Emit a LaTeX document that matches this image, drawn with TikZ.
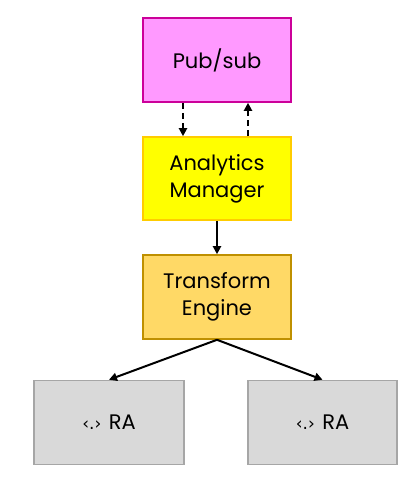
\documentclass[tikz,border=0pt]{standalone}
\usepackage{fontspec}
\setmainfont{Poppins}
\newfontfamily\quotefont{DejaVu Sans}
\usetikzlibrary{arrows.meta}
\definecolor{pubfill}{HTML}{FF99FF}
\definecolor{pubdraw}{HTML}{CC0099}
\definecolor{amfill}{HTML}{FFFF00}
\definecolor{amdraw}{HTML}{FFCC00}
\definecolor{tefill}{HTML}{FFD966}
\definecolor{tedraw}{HTML}{BF9000}
\definecolor{rafill}{HTML}{D9D9D9}
\definecolor{radraw}{HTML}{A6A6A6}
\tikzset{
  box/.style={rectangle, minimum width=148pt, minimum height=84pt, line width=1.6pt,
    align=center, inner sep=0pt, font=\fontsize{21}{27}\selectfont},
  conn/.style={line width=2pt, -{Triangle[length=8pt,width=8pt]}},
  dashconn/.style={conn, dash pattern=on 6pt off 4pt},
}
\begin{document}
\begin{tikzpicture}[x=1pt,y=-1pt]
\useasboundingbox (0,0) rectangle (420,482);
\node[box, fill=pubfill, draw=pubdraw] (pub) at (217,60) {Pub/sub};
\node[box, fill=amfill, draw=amdraw, minimum height=83pt] (am) at (217,178.5) {Analytics\\Manager};
\node[box, fill=tefill, draw=tedraw] (te) at (217,297) {Transform\\Engine};
\node[box, fill=rafill, draw=radraw, minimum width=150pt] (ra1) at (109,422.5) {{\quotefont\fontsize{17}{20}\selectfont ‹.›} RA};
\node[box, fill=rafill, draw=radraw, minimum width=149pt] (ra2) at (322.5,422.5) {{\quotefont\fontsize{17}{20}\selectfont ‹.›} RA};
\draw[dashconn] (pub.south -| 183,0) -- (am.north -| 183,0);
\draw[dashconn] (am.north -| 248,0) -- (pub.south -| 248,0);
\draw[conn] (am) -- (te);
\draw[conn] (te.south) -- (ra1.north);
\draw[conn] (te.south) -- (ra2.north);
\end{tikzpicture}
\end{document}
